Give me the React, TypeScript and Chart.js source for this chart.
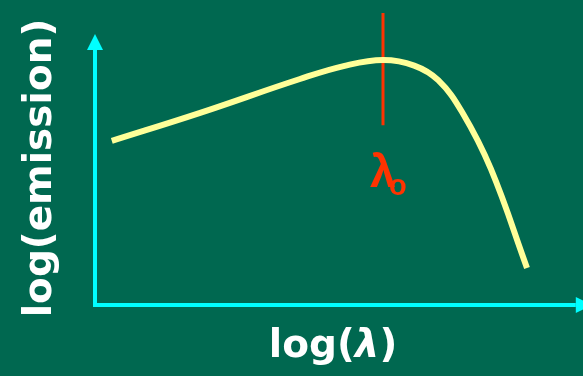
import React, { useEffect, useRef } from "react";
import { Chart, registerables } from "chart.js";

Chart.register(...registerables);

// Emission curve in log space (arbitrary units, 0–100 on both axes)
const logLambda = [3.5, 21.9, 42.7, 52.0, 60.0, 66.5, 71.5, 76.5, 82.5, 90.0];
const logEmission = [56.2, 65.8, 77.4, 81.9, 83.9, 82.0, 77.0, 66.0, 46.5, 12.7];

// Peak wavelength marker
const peakLambda = 60.0;
const peakMarkerSpan = [100, 61.6];

// Axis extents
const xAxisEnd = 103.5;
const yAxisEnd = 92.8;

const xTitle = ["log(", "λ", ")"];
const yTitle = "log(emission)";
const peakLabel = ["λ", "o"];

const BG = "#006850";
const AXIS = "#00FFFF";
const CURVE = "#FFFF99";
const PEAK = "#FF3300";
const FONT = "'DejaVu Sans', sans-serif";
const LABEL_FONT = "'Liberation Sans', Arial, sans-serif";

const decorPlugin = {
  id: "decor",
  beforeDraw(chart: any) {
    const { ctx, width, height } = chart;
    ctx.save();
    ctx.fillStyle = BG;
    ctx.fillRect(0, 0, width, height);
    ctx.restore();
  },
  afterDatasetsDraw(chart: any) {
    const { ctx } = chart;
    const xs = chart.scales.x;
    const ys = chart.scales.y;
    const x0 = xs.getPixelForValue(0);
    const y0 = ys.getPixelForValue(0);
    const xEnd = xs.getPixelForValue(xAxisEnd);
    const yEnd = ys.getPixelForValue(yAxisEnd);
    const head = 16;
    const half = 8;

    ctx.save();
    // axes
    ctx.strokeStyle = AXIS;
    ctx.fillStyle = AXIS;
    ctx.lineWidth = 4;
    ctx.beginPath();
    ctx.moveTo(x0, y0 + 2);
    ctx.lineTo(x0, yEnd + head);
    ctx.moveTo(x0 - 2, y0);
    ctx.lineTo(xEnd - head, y0);
    ctx.stroke();
    ctx.beginPath();
    ctx.moveTo(x0, yEnd);
    ctx.lineTo(x0 - half, yEnd + head);
    ctx.lineTo(x0 + half, yEnd + head);
    ctx.closePath();
    ctx.fill();
    ctx.beginPath();
    ctx.moveTo(xEnd, y0);
    ctx.lineTo(xEnd - head, y0 - half);
    ctx.lineTo(xEnd - head, y0 + half);
    ctx.closePath();
    ctx.fill();

    // peak label
    const px = xs.getPixelForValue(peakLambda);
    const py = ys.getPixelForValue(peakMarkerSpan[1]);
    ctx.fillStyle = PEAK;
    ctx.textBaseline = "alphabetic";
    ctx.textAlign = "left";
    ctx.font = `bold 46px ${LABEL_FONT}`;
    ctx.fillText(peakLabel[0], px - 13, py + 62);
    ctx.font = `bold 29px ${LABEL_FONT}`;
    ctx.fillText(peakLabel[1], px + 6, py + 70);

    // x title
    ctx.fillStyle = "#FFFFFF";
    ctx.font = `bold 39px ${FONT}`;
    const w0 = ctx.measureText(xTitle[0]).width;
    ctx.font = `italic bold 39px ${FONT}`;
    const w1 = ctx.measureText(xTitle[1]).width;
    ctx.font = `bold 39px ${FONT}`;
    const w2 = ctx.measureText(xTitle[2]).width;
    const cx = (xs.left + xs.right) / 2 - 2;
    let tx = cx - (w0 + w1 + w2) / 2;
    const tb = y0 + 52;
    ctx.fillText(xTitle[0], tx, tb);
    tx += w0;
    ctx.font = `italic bold 39px ${FONT}`;
    ctx.fillText(xTitle[1], tx, tb);
    tx += w1;
    ctx.font = `bold 39px ${FONT}`;
    ctx.fillText(xTitle[2], tx, tb);

    // y title
    ctx.translate(51, 168);
    ctx.rotate(-Math.PI / 2);
    ctx.textAlign = "center";
    ctx.fillText(yTitle, 0, 0);
    ctx.restore();
  },
};

export default function App() {
  const ref = useRef<HTMLCanvasElement | null>(null);

  useEffect(() => {
    document.body.style.margin = "0";
    document.body.style.background = BG;
    const canvas = ref.current;
    if (!canvas) return;
    const chart = new Chart(canvas, {
      type: "line",
      data: {
        datasets: [
          {
            data: logLambda.map((x, i) => ({ x, y: logEmission[i] })),
            borderColor: CURVE,
            borderWidth: 6,
            pointRadius: 0,
            tension: 0.4,
            borderCapStyle: "butt",
          },
          {
            data: peakMarkerSpan.map((y) => ({ x: peakLambda, y })),
            borderColor: PEAK,
            borderWidth: 3,
            pointRadius: 0,
          },
        ],
      },
      options: {
        responsive: false,
        animation: false,
        events: [],
        layout: { padding: { left: 95, right: 8, top: 13, bottom: 71 } },
        plugins: { legend: { display: false }, tooltip: { enabled: false } },
        scales: {
          x: { type: "linear", min: 0, max: 100, display: false },
          y: { type: "linear", min: 0, max: 100, display: false },
        },
      },
      plugins: [decorPlugin],
    } as any);
    return () => chart.destroy();
  }, []);

  return (
    <div style={{ width: 583, height: 376 }}>
      <canvas ref={ref} width={583} height={376} />
    </div>
  );
}
